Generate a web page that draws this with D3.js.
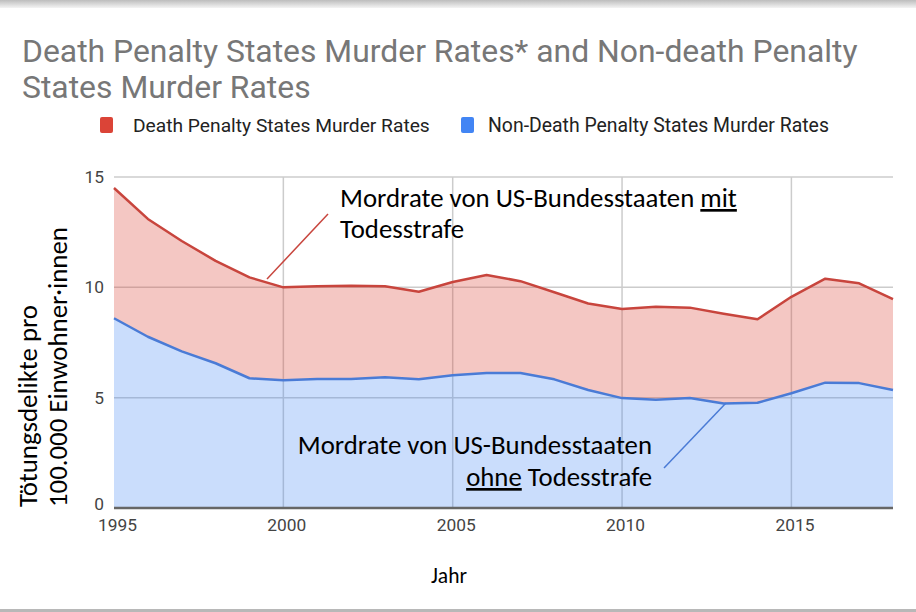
<!DOCTYPE html>
<html><head><meta charset="utf-8">
<script src="https://cdn.jsdelivr.net/npm/d3@7"></script>
<style>body{margin:0;background:#fff}svg{display:block}</style>
</head><body>
<svg id="c" width="916" height="612"></svg>
<script>
const years = [1995,1996,1997,1998,1999,2000,2001,2002,2003,2004,2005,2006,2007,2008,2009,2010,2011,2012,2013,2014,2015,2016,2017,2018];
const deathRates = [14.5,13.1,12.1,11.2,10.45,10.0,10.05,10.07,10.05,9.8,10.24,10.56,10.28,9.78,9.27,9.02,9.12,9.08,8.8,8.55,9.57,10.39,10.18,9.47];
const nonDeathRates = [8.6,7.76,7.1,6.56,5.88,5.79,5.85,5.85,5.92,5.83,6.02,6.12,6.12,5.83,5.35,4.98,4.9,4.98,4.74,4.77,5.2,5.68,5.66,5.35];
const yTicks = [0,5,10,15];
const xTicks = [1995,2000,2005,2010,2015];
const seriesNames = ["Death Penalty States Murder Rates","Non-Death Penalty States Murder Rates"];
const titleLines = ["Death Penalty States Murder Rates* and Non-death Penalty","States Murder Rates"];

const svg = d3.select("#c");
const W = 916, H = 612;

// frame decorations
const grad = svg.append("defs").append("linearGradient").attr("id","tg").attr("x1",0).attr("x2",0).attr("y1",0).attr("y2",1);
grad.append("stop").attr("offset","0%").attr("stop-color","#bdbdbd");
grad.append("stop").attr("offset","100%").attr("stop-color","#f4f4f4");
svg.append("rect").attr("x",0).attr("y",0).attr("width",W).attr("height",8).attr("fill","url(#tg)");
svg.append("rect").attr("x",0).attr("y",609).attr("width",W).attr("height",3).attr("fill","#b8b8b8");

const x = d3.scaleLinear().domain([1995,2018]).range([114,893]);
const y = d3.scaleLinear().domain([0,15]).range([508,177]);

function fit(sel, target){
  const n = sel.node();
  const fs = parseFloat(sel.attr("font-size"));
  const w = n.getComputedTextLength();
  const nf = (fs*target/w).toFixed(2);
  sel.attr("font-size", nf);
  return nf;
}

// title
const tf = "Roboto, 'Liberation Sans', Arial, sans-serif";
const t1 = svg.append("text").attr("x",22).attr("y",62).attr("font-family",tf).attr("font-size",30).attr("fill","#777").text(titleLines[0]);
fit(t1, 836);
svg.append("text").attr("x",22).attr("y",98).attr("font-family",tf).attr("font-size",t1.attr("font-size")).attr("fill","#777").text(titleLines[1]);

// legend
const lg = svg.append("g");
lg.append("rect").attr("x",100).attr("y",117).attr("width",13).attr("height",16).attr("rx",2).attr("fill","#db4437");
const l1 = lg.append("text").attr("x",133).attr("y",132).attr("font-family",tf).attr("font-size",17).attr("fill","#222").text(seriesNames[0]);
fit(l1, 297);
lg.append("rect").attr("x",461).attr("y",117).attr("width",13).attr("height",16).attr("rx",2).attr("fill","#4285f4");
const l2 = lg.append("text").attr("x",488).attr("y",132).attr("font-family",tf).attr("font-size",17).attr("fill","#222").text(seriesNames[1]);
fit(l2, 341);

// gridlines
const grid = svg.append("g");
grid.selectAll("line.h").data(yTicks.filter(d=>d>0)).join("line")
  .attr("x1",x(1995)).attr("x2",x(2018)).attr("y1",d=>y(d)).attr("y2",d=>y(d))
  .attr("stroke","#cccccc").attr("stroke-width",1.5);
grid.selectAll("line.v").data(xTicks.filter(d=>d>1995)).join("line")
  .attr("x1",d=>x(d)).attr("x2",d=>x(d)).attr("y1",y(15)).attr("y2",y(0))
  .attr("stroke","#cccccc").attr("stroke-width",1.5);

const data = years.map((yr,i)=>({yr, d:deathRates[i], n:nonDeathRates[i]}));

// areas
svg.append("path").datum(data)
  .attr("d", d3.area().x(d=>x(d.yr)).y0(d=>y(d.n)).y1(d=>y(d.d)))
  .attr("fill","#db4437").attr("fill-opacity",0.3);
svg.append("path").datum(data)
  .attr("d", d3.area().x(d=>x(d.yr)).y0(y(0)).y1(d=>y(d.n)))
  .attr("fill","#4285f4").attr("fill-opacity",0.28);

// lines
svg.append("path").datum(data)
  .attr("d", d3.line().x(d=>x(d.yr)).y(d=>y(d.d)))
  .attr("fill","none").attr("stroke","#c8453d").attr("stroke-width",2.5).attr("stroke-linejoin","round");
svg.append("path").datum(data)
  .attr("d", d3.line().x(d=>x(d.yr)).y(d=>y(d.n)))
  .attr("fill","none").attr("stroke","#4a7bd6").attr("stroke-width",2.5).attr("stroke-linejoin","round");

// baseline
svg.append("line").attr("x1",x(1995)).attr("x2",x(2018)).attr("y1",y(0)).attr("y2",y(0))
  .attr("stroke","#666").attr("stroke-width",2.5);

// measure tick font size so "1995" is ~40px wide
const probe = svg.append("text").attr("font-family",tf).attr("font-size",16).text("1995");
const tfs = fit(probe, 39);
probe.remove();

// axes labels
const yAxis = d3.axisLeft(y).tickValues(yTicks).tickSize(0).tickPadding(10);
const ya = svg.append("g").attr("transform",`translate(${x(1995)},0)`).call(yAxis)
  .attr("font-family",tf).attr("font-size",tfs);
ya.select(".domain").remove();
ya.selectAll("text").attr("font-size",tfs).attr("fill","#444");
ya.selectAll(".tick").filter(d=>d===0).select("text").attr("dy","0.1em");

const xAxis = d3.axisBottom(x).tickValues(xTicks).tickFormat(d3.format("d")).tickSize(0).tickPadding(11);
const xa = svg.append("g").attr("transform",`translate(0,${y(0)})`).call(xAxis)
  .attr("font-family",tf).attr("font-size",tfs);
xa.select(".domain").remove();
xa.selectAll("text").attr("font-size",tfs).attr("fill","#444").attr("dx",3);

// annotation font
const af = "Carlito, Lato, 'Open Sans', sans-serif";

// red annotation
const a1 = svg.append("text").attr("x",340).attr("y",207).attr("font-family",af).attr("font-size",22).attr("fill","#000");
a1.append("tspan").text("Mordrate von US-Bundesstaaten ");
a1.append("tspan").attr("text-decoration","underline").text("mit");
fit(a1, 397);
const afs = a1.attr("font-size");
svg.append("text").attr("x",340).attr("y",238).attr("font-family",af).attr("font-size",afs).attr("fill","#000").text("Todesstrafe");
svg.append("line").attr("x1",328).attr("y1",214).attr("x2",267).attr("y2",279).attr("stroke","#c8453d").attr("stroke-width",1.5);

// blue annotation
svg.append("text").attr("x",652).attr("y",454).attr("text-anchor","end").attr("font-family",af).attr("font-size",afs).attr("fill","#000").text("Mordrate von US-Bundesstaaten");
const b2 = svg.append("text").attr("x",652).attr("y",486).attr("text-anchor","end").attr("font-family",af).attr("font-size",afs).attr("fill","#000");
b2.append("tspan").attr("text-decoration","underline").text("ohne");
b2.append("tspan").text(" Todesstrafe");
svg.append("line").attr("x1",664).attr("y1",468).attr("x2",726).attr("y2",403).attr("stroke","#4a7bd6").attr("stroke-width",1.5);

// axis titles
svg.append("text").attr("transform","translate(37,507) rotate(-90)").attr("font-family",af).attr("font-size",afs).attr("fill","#000").text("Tötungsdelikte pro");
svg.append("text").attr("transform","translate(67,507) rotate(-90)").attr("font-family",af).attr("font-size",afs).attr("fill","#000").text("100.000 Einwohner·innen");
const jt = svg.append("text").attr("x",449).attr("y",583).attr("text-anchor","middle").attr("font-family",af).attr("font-size",20).attr("fill","#000").text("Jahr");
fit(jt, 36);
</script>
</body></html>
